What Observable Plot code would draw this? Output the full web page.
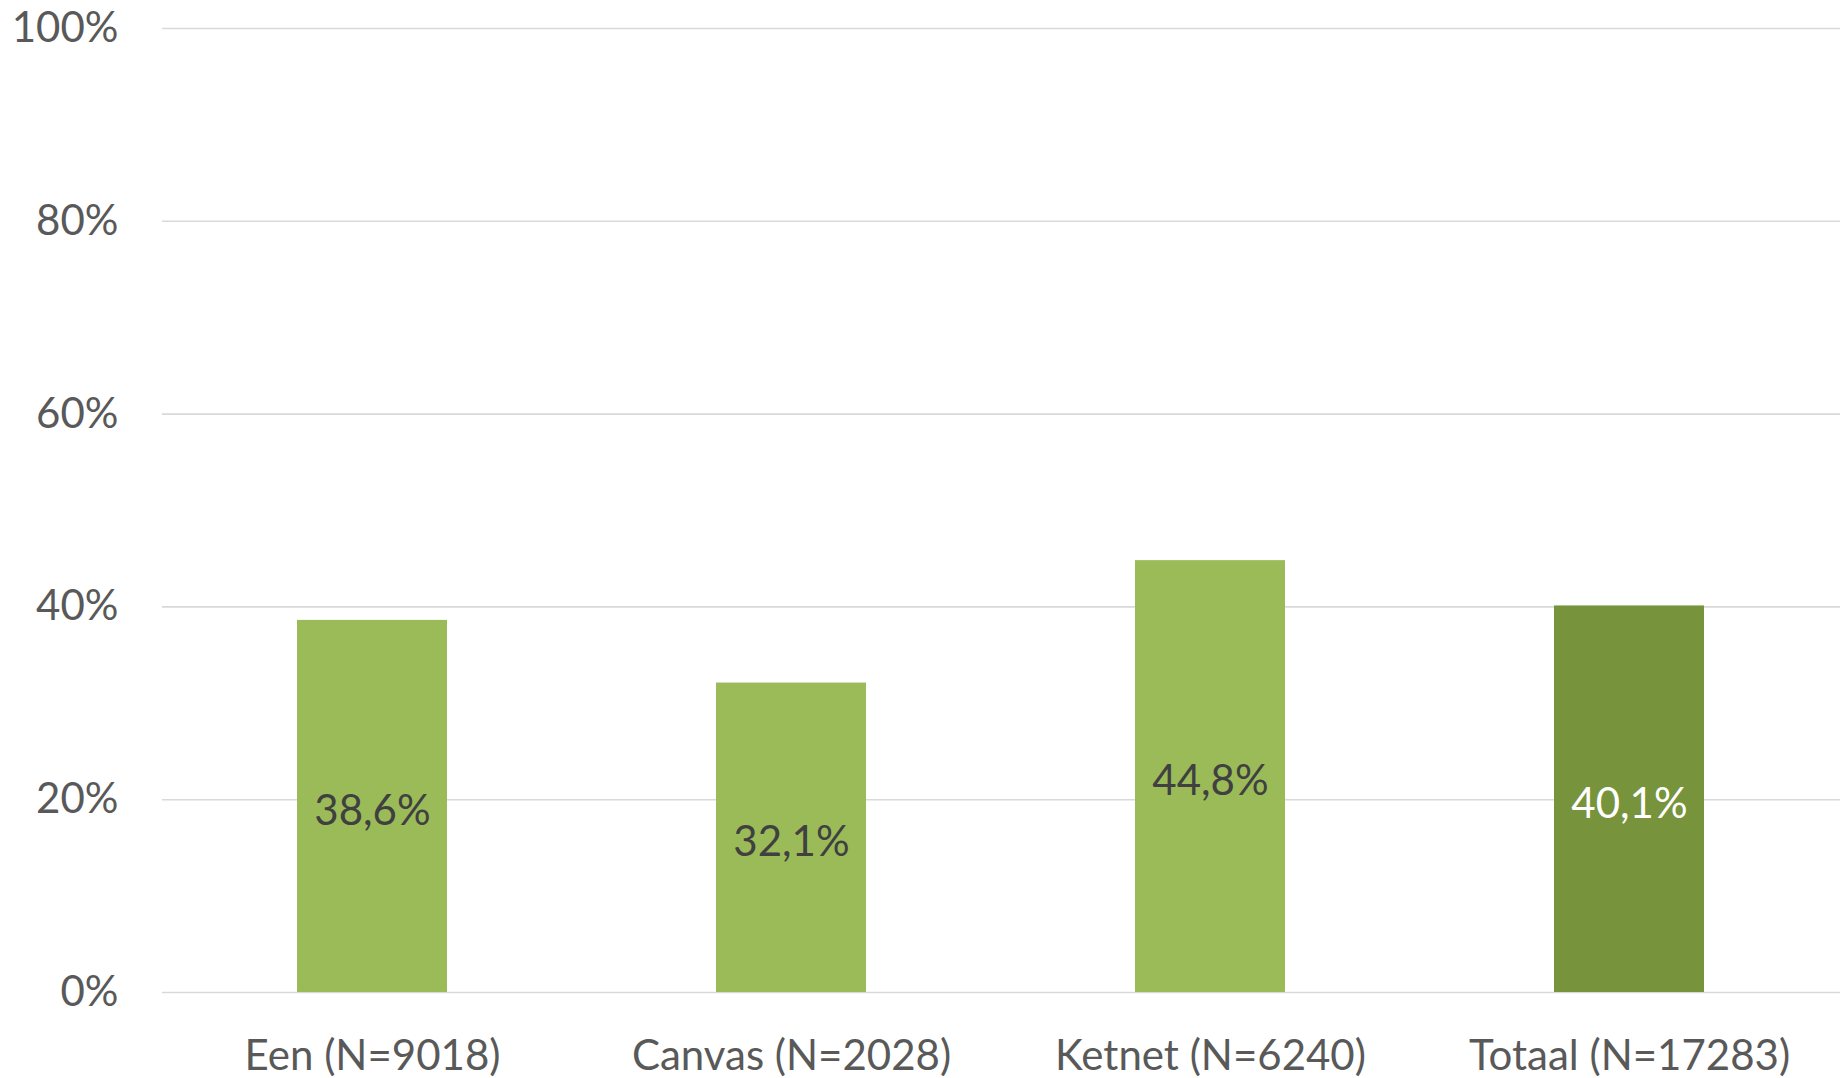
<!DOCTYPE html>
<html>
<head>
<meta charset="utf-8">
<script src="https://cdn.jsdelivr.net/npm/d3@7"></script>
<script src="https://cdn.jsdelivr.net/npm/@observablehq/plot@0.6"></script>
<style>
  html, body { margin: 0; padding: 0; background: #fff; }
  #chart { width: 1847px; height: 1078px; }
</style>
</head>
<body>
<div id="chart"></div>
<script>
const categories = ["Een (N=9018)", "Canvas (N=2028)", "Ketnet (N=6240)", "Totaal (N=17283)"];
const values = [38.6, 32.1, 44.8, 40.1];
const yTicks = [0, 20, 40, 60, 80, 100];

const data = categories.map((c, i) => ({category: c, value: values[i], total: i === categories.length - 1}));
const fmt = v => v.toFixed(1).replace(".", ",") + "%";

const plot = Plot.plot({
  width: 1847,
  height: 1078,
  marginLeft: 162,
  marginRight: 7,
  marginTop: 28,
  marginBottom: 86,
  style: {fontFamily: "Lato, 'Open Sans', sans-serif", fontSize: "42px", color: "#595959", background: "#fff"},
  x: {domain: categories, paddingInner: 0.642, paddingOuter: 0.321, label: null},
  y: {domain: [0, 100], label: null},
  marks: [
    Plot.gridY(yTicks, {stroke: "#d9d9d9", strokeOpacity: 1, strokeWidth: 1.6}),
    Plot.barY(data, {x: "category", y: "value", fill: d => d.total ? "#77933C" : "#9BBB59"}),
    Plot.text(data, {x: "category", y: d => d.value / 2, dy: 5, text: d => fmt(d.value), fill: d => d.total ? "#ffffff" : "#404040", fontSize: 42}),
    Plot.axisY({ticks: yTicks, tickFormat: d => d + "%", tickSize: 0, tickPadding: 44, label: null, fontSize: 42}),
    Plot.axisX({tickSize: 0, tickPadding: 48, label: null, fontSize: 42})
  ]
});
document.getElementById("chart").appendChild(plot);
</script>
</body>
</html>
